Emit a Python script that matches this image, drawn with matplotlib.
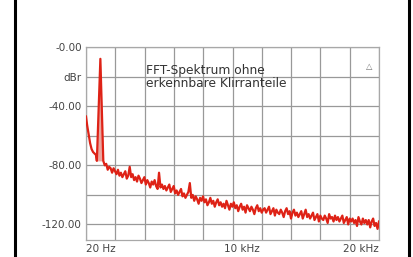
import numpy as np
import matplotlib
matplotlib.use("Agg")
import matplotlib.pyplot as plt
from matplotlib.transforms import ScaledTranslation

# --- data -------------------------------------------------------------
low_freq = [20, 100, 200, 300, 400, 500, 600, 700, 760, 1000]
low_db = [-47, -53, -59, -65, -69, -71, -72, -73, -77, -8]

noise_start_hz = 1200
noise_step_hz = 100
noise_db = [
    -77, -80, -79, -83, -81, -82, -85, -82, -84, -86,
    -83, -87, -85, -88, -86, -84, -89, -87, -81, -88,
    -86, -90, -88, -91, -87, -89, -92, -90, -88, -93,
    -90, -92, -95, -91, -93, -90, -94, -96, -85, -95,
    -93, -96, -94, -97, -95, -93, -98, -96, -94, -99,
    -97, -100, -98, -96, -101, -99, -102, -100, -98, -92,
    -102, -100, -104, -101, -103, -106, -102, -104, -101, -105,
    -103, -107, -105, -102, -106, -104, -108, -105, -103, -107,
    -105, -108, -106, -109, -104, -107, -110, -106, -108, -105,
    -109, -107, -111, -108, -106, -110, -108, -112, -107, -109,
    -111, -108, -110, -113, -109, -107, -111, -109, -112, -110,
    -109, -112, -110, -108, -113, -111, -109, -114, -110, -112,
    -113, -110, -112, -115, -111, -109, -113, -111, -116, -112,
    -110, -114, -112, -115, -113, -111, -116, -113, -110, -115,
    -113, -116, -114, -112, -117, -115, -113, -118, -114, -116,
    -117, -114, -116, -119, -113, -116, -115, -118, -114, -117,
    -115, -118, -116, -114, -119, -117, -115, -120, -116, -118,
    -116, -119, -117, -121, -115, -118, -120, -116, -119, -117,
    -120, -117, -122, -118, -116, -121, -119, -123, -118,
]

x_ticks = [20, 10000, 20000]
x_labels = ["20 Hz", "10 kHz", "20 kHz"]
y_ticks = [0, -20, -40, -80, -120]
y_labels = ["-0.00", "dBr", "-40.00", "-80.00", "-120.00"]
annotation = "FFT-Spektrum ohne\nerkennbare Klirranteile"

# --- build series -----------------------------------------------------
noise_freq = noise_start_hz + noise_step_hz * np.arange(len(noise_db))
freq = np.concatenate([low_freq, noise_freq])
db = np.concatenate([low_db, noise_db])

fig = plt.figure(figsize=(4.14, 2.57), dpi=100)
fig.patch.set_facecolor("white")
ax = fig.add_axes([86 / 414, 1 - 240 / 257, 293 / 414, 193 / 257])

ax.set_xlim(20, 20000)
ax.set_ylim(-130.5, 0)

# grid lines (every 1/10 of x range, every 20 dB)
for gx in np.linspace(20, 20000, 11):
    ax.axvline(gx, color="#999999", lw=0.9, zorder=1)
for gy in np.arange(-120, 1, 20):
    ax.axhline(gy, color="#999999", lw=0.9, zorder=1)

# peak fill
mask = (freq >= 760) & (freq <= 1200)
ax.fill_between(freq[mask], db[mask], -77, color="#eaa7a0", lw=0, zorder=2)
ax.plot(freq, db, color="#de2216", lw=1.6, zorder=3)

ax.set_xticks(x_ticks)
ax.set_xticklabels(x_labels)
ax.set_yticks(y_ticks)
ax.set_yticklabels(y_labels)
ax.tick_params(which="major", length=0, labelsize=7.5, labelcolor="#444444", pad=3)
xl = ax.get_xticklabels()
xl[0].set_ha("left")
xl[1].set_ha("center")
xl[1].set_transform(xl[1].get_transform() + ScaledTranslation(0.1, 0, fig.dpi_scale_trans))
xl[2].set_ha("right")

for s in ax.spines.values():
    s.set_color("#a8a8a8")
    s.set_linewidth(0.9)

ax.text(0.205, 0.91, annotation, transform=ax.transAxes, fontsize=8.8,
        color="#333333", va="top", ha="left", linespacing=0.95)
ax.text(0.965, 0.9, "\u25b3", transform=ax.transAxes, fontsize=6,
        color="#777777", va="center", ha="center")

# outer black frame sides
fig.add_artist(plt.Line2D([15 / 414, 15 / 414], [0, 1], color="black", lw=2.2,
                          transform=fig.transFigure))
fig.add_artist(plt.Line2D([409 / 414, 409 / 414], [0, 1], color="black", lw=2.2,
                          transform=fig.transFigure))

fig.savefig("out.png", dpi=100, facecolor="white")
